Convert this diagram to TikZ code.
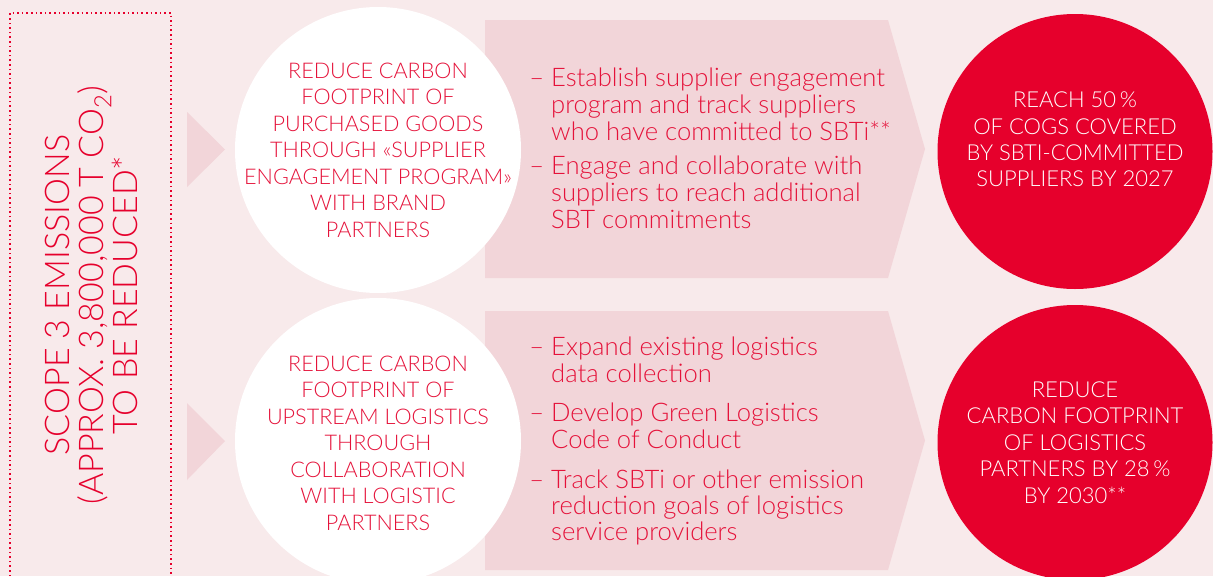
\documentclass[tikz,border=0pt]{standalone}
\usepackage{fontspec}
\setmainfont{Lato Light}
\usepackage{tikz}
\usetikzlibrary{positioning}

\definecolor{brandred}{RGB}{230,0,44}
\definecolor{txtred}{RGB}{229,18,58}
\definecolor{bgpink}{RGB}{248,234,235}
\definecolor{bandpink}{RGB}{242,213,217}

\begin{document}
\begin{tikzpicture}[
    x=1pt, y=-1pt,
    goal/.style={circle, fill=white, minimum size=286pt, inner sep=0pt},
    goaltxt/.style={align=center, text=txtred, font=\fontsize{21.6}{26.5}\selectfont},
    target/.style={circle, fill=brandred, minimum size=275pt, inner sep=0pt},
    targettxt/.style={align=center, text=white, font=\fontsize{22}{26.4}\selectfont},
    bullets/.style={align=left, text=txtred, anchor=north west, inner sep=0pt},
    scopebox/.style={draw=brandred, line width=1.6pt, dash pattern=on 1.6pt off 3pt},
    scopetxt/.style={align=center, text=brandred, rotate=90, font=\fontsize{34}{34}\selectfont},
    pointer/.style={fill=bandpink}
]

% Canvas
\fill[bgpink] (0,0) rectangle (1213,576);
\useasboundingbox (0,0) rectangle (1213,576);
\clip (0,0) rectangle (1213,576);

% Scope 3 box
\draw[scopebox] (10,590) -- (10,13) -- (171,13) -- (171,590);
\node[scopetxt] (scope) at (91,295) {SCOPE 3 EMISSIONS\\(APPROX. 3,800,000 T CO\textsubscript{2})\\TO BE REDUCED*};

% Bands
\fill[bandpink] (485,20) -- (888,20) -- (925,149) -- (888,278) -- (485,278) -- cycle;
\fill[bandpink] (485,311) -- (888,311) -- (925,440.5) -- (888,570) -- (485,570) -- cycle;

% Small pointers
\fill[pointer] (187,112) -- (225,149.5) -- (187,187) -- cycle;
\fill[pointer] (187,403) -- (225,441) -- (187,480) -- cycle;

% Levers
\node[goal] (goal1) at (378,150) {};
\node[goaltxt] (goal1txt) at (goal1.center) {REDUCE CARBON\\FOOTPRINT OF\\PURCHASED GOODS\\THROUGH «SUPPLIER\\ENGAGEMENT PROGRAM»\\WITH BRAND\\PARTNERS};
\node[goal] (goal2) at (378,441) {};
\node[goaltxt] (goal2txt) at ([yshift=-2pt]goal2.center) {REDUCE CARBON\\FOOTPRINT OF\\UPSTREAM LOGISTICS\\THROUGH\\COLLABORATION\\WITH LOGISTIC\\PARTNERS};

% Measures
\node[bullets, font=\fontsize{25.6}{27}\selectfont] (measure1) at (551,68) {\llap{–\hspace{7pt}}Establish supplier engagement\\program and track suppliers\\who have committed to SBTi**\\[7pt]\llap{–\hspace{7pt}}Engage and collaborate with\\suppliers to reach additional\\SBT commitments};
\node[bullets, font=\fontsize{25.6}{26.3}\selectfont] (measure2) at (551,337) {\llap{–\hspace{7pt}}Expand existing logistics\\data collection\\[13.5pt]\llap{–\hspace{7pt}}Develop Green Logistics\\Code of Conduct\\[13.5pt]\llap{–\hspace{7pt}}Track SBTi or other emission\\reduction goals of logistics\\service providers};

% Targets
\node[target] (target1) at (1075,151.5) {};
\node[targettxt] (target1txt) at ([yshift=12pt]target1.center) {REACH 50\,\%\\OF COGS COVERED\\BY SBTI-COMMITTED\\SUPPLIERS BY 2027};
\node[target] (target2) at (1075,442.5) {};
\node[targettxt] (target2txt) at (target2.center) {REDUCE\\CARBON FOOTPRINT\\OF LOGISTICS\\PARTNERS BY 28\,\%\\BY 2030**};

\end{tikzpicture}
\end{document}
